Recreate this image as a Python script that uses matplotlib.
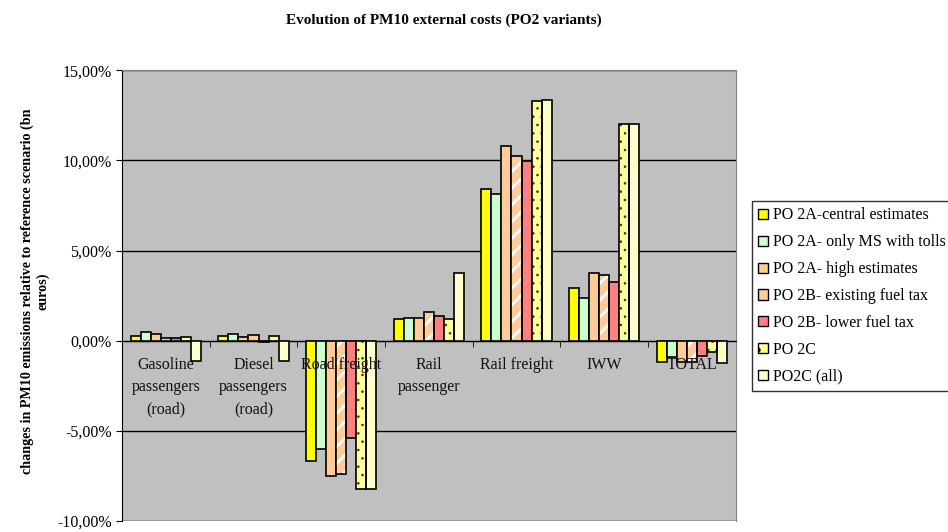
import matplotlib
matplotlib.use("Agg")
import matplotlib.pyplot as plt
import numpy as np
from matplotlib.ticker import FuncFormatter, FixedLocator
from matplotlib.patches import Patch

plt.rcParams['font.family'] = ['Liberation Serif', 'DejaVu Serif']

categories = ["Gasoline\npassengers\n(road)", "Diesel\npassengers\n(road)", "Road freight",
              "Rail\npassenger", "Rail freight", "IWW", "TOTAL"]
series_names = ["PO 2A-central estimates", "PO 2A- only MS with tolls", "PO 2A- high estimates",
                "PO 2B- existing fuel tax", "PO 2B- lower fuel tax", "PO 2C", "PO2C (all)"]
po2a_central = [0.28, 0.28, -6.7, 1.18, 8.43, 2.90, -1.16]
po2a_ms_tolls = [0.46, 0.39, -6.0, 1.26, 8.12, 2.35, -0.92]
po2a_high = [0.37, 0.22, -7.5, 1.26, 10.77, 3.75, -1.20]
po2b_existing = [0.15, 0.31, -7.4, 1.60, 10.22, 3.65, -1.20]
po2b_lower = [0.15, -0.10, -5.4, 1.35, 9.98, 3.27, -0.83]
po2c = [0.22, 0.28, -8.2, 1.22, 13.28, 12.03, -0.61]
po2c_all = [-1.10, -1.10, -8.2, 3.76, 13.36, 12.03, -1.23]
series = [po2a_central, po2a_ms_tolls, po2a_high, po2b_existing, po2b_lower, po2c, po2c_all]

colors = ["#FFFF00", "#CCFFCC", "#FFCC99", "#FFCC99", "#FF8080", "#FFFF99", "#FFFFCC"]

fig = plt.figure(figsize=(9.48, 5.32), dpi=100)
ax = fig.add_axes([0.1287, 0.0207, 0.6473, 0.8473])
ax.set_facecolor("#C0C0C0")

n = len(series)
x = np.arange(len(categories))
w = 0.8 / n
for i, (vals, c) in enumerate(zip(series, colors)):
    pos = x - 0.4 + w * (i + 0.5)
    if i == 3:
        with plt.rc_context({'hatch.linewidth': 2.0}):
            ax.bar(pos, vals, w, color=c, hatch="//", edgecolor="white", linewidth=0, zorder=3)
        ax.bar(pos, vals, w, fill=False, edgecolor="black", linewidth=1.2, zorder=4)
    elif i == 5:
        with plt.rc_context({'hatch.linewidth': 0.6}):
            ax.bar(pos, vals, w, color=c, hatch="..", edgecolor="#333333", linewidth=0, zorder=3)
        ax.bar(pos, vals, w, fill=False, edgecolor="black", linewidth=1.2, zorder=4)
    else:
        ax.bar(pos, vals, w, color=c, edgecolor="black", linewidth=1.2, zorder=3)

ax.set_xlim(-0.5, len(categories) - 0.5)
ax.set_ylim(-10, 15)
ax.set_yticks(np.arange(-10, 15.1, 5))
ax.yaxis.set_major_formatter(FuncFormatter(lambda v, p: f"{v:.2f}%".replace(".", ",")))
ax.yaxis.grid(True, color="black", linewidth=1.0, zorder=1)
ax.set_axisbelow(True)
ax.tick_params(axis='y', labelsize=11.5, length=4, direction='out', color='black')

ax.spines['bottom'].set_position(('data', 0))
ax.spines['bottom'].set_color('black')
ax.spines['left'].set_color('black')
ax.spines['top'].set_color('#808080')
ax.spines['right'].set_color('#808080')
ax.set_xticks(x)
ax.set_xticklabels([])
ax.xaxis.set_minor_locator(FixedLocator(np.arange(0.5, len(categories) - 0.5, 1)))
ax.tick_params(axis='x', which='major', length=0)
ax.tick_params(axis='x', which='minor', length=4, direction='out', color='black')

for xi, cat in zip(x, categories):
    ax.annotate(cat, (xi, 0), xytext=(0, -11.5), textcoords='offset points',
                ha='center', va='top', fontsize=11.5, linespacing=1.55,
                color='#111111', zorder=10, annotation_clip=False)

ax.set_ylabel("changes in PM10 emissions relative to reference scenario (bn\neuros)",
              fontsize=10.2, fontweight='bold', labelpad=6)
ax.yaxis.set_label_coords(-0.118, 0.51)

fig.suptitle("Evolution of PM10 external costs (PO2 variants)", fontsize=11,
             fontweight='bold', x=0.468, y=0.975)

handles = []
for i, (name, c) in enumerate(zip(series_names, colors)):
    if i == 5:
        handles.append(Patch(facecolor=c, edgecolor="black", hatch=".", label=name))
    else:
        handles.append(Patch(facecolor=c, edgecolor="black", label=name))
leg = fig.legend(handles=handles, loc='upper left', bbox_to_anchor=(0.793, 0.622),
                 fontsize=11.5, frameon=True, fancybox=False, edgecolor='black',
                 handlelength=0.6, handleheight=0.6, handletextpad=0.3,
                 labelspacing=0.68, borderpad=0.4, borderaxespad=0)
leg.get_frame().set_linewidth(1.0)

fig.savefig("out.png", dpi=100)
